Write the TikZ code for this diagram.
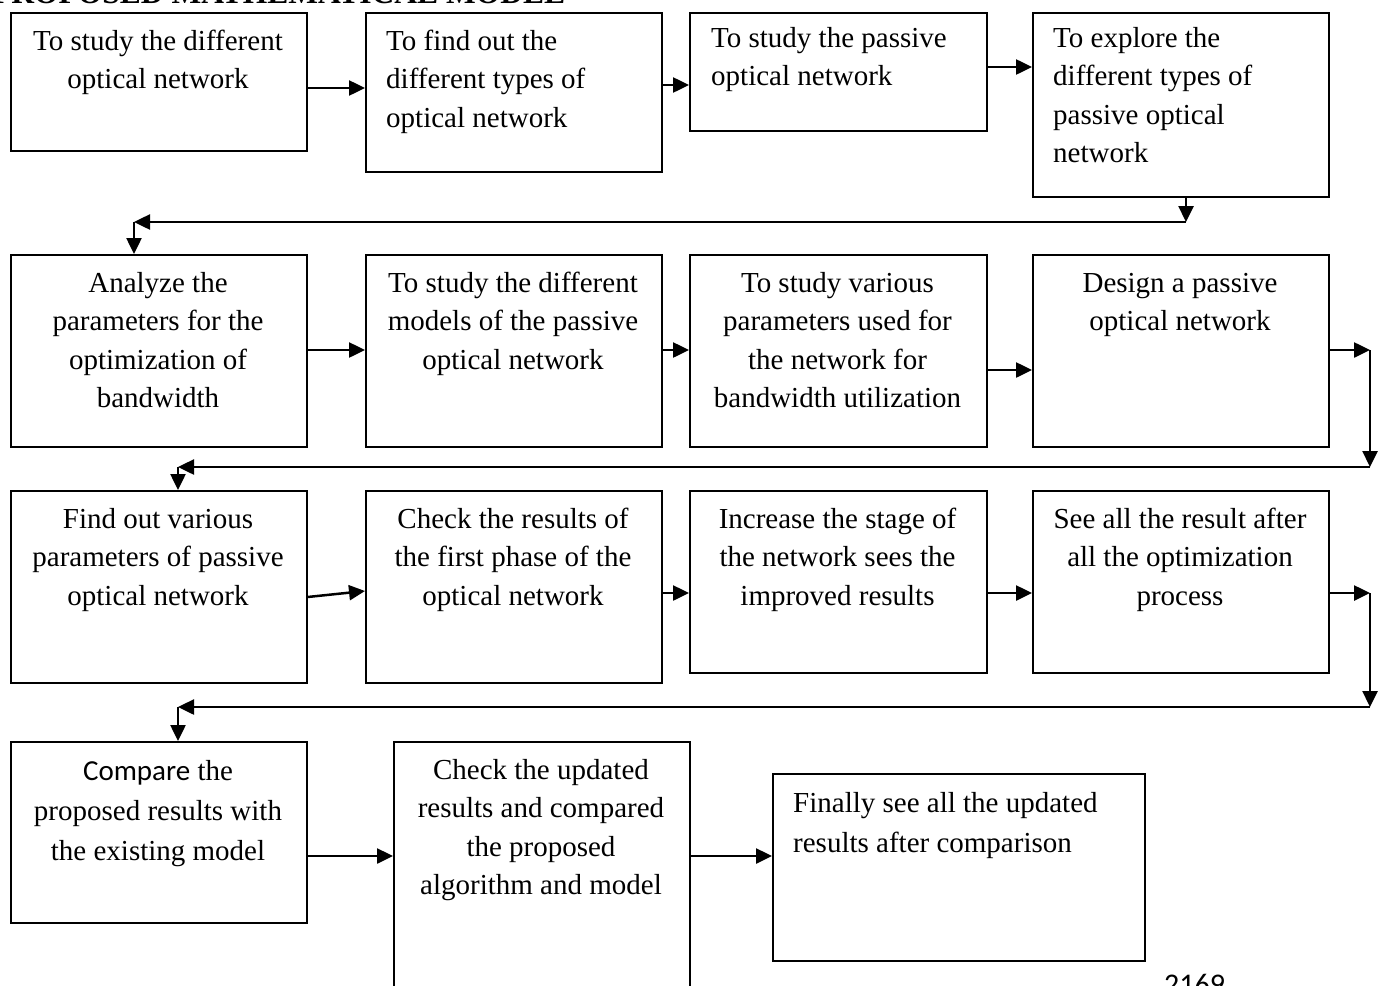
\documentclass[tikz,border=0pt]{standalone}
\usepackage{fontspec}
\setmainfont{Liberation Serif}
\newfontfamily\calfont{Carlito}
\usetikzlibrary{arrows.meta}
\begin{document}
\begin{tikzpicture}[x=1pt,y=-1pt,
  box/.style={draw, line width=1.6pt, anchor=north west, inner sep=0pt},
  txt/.style={inner sep=0pt, font=\fontsize{29}{38.5}\selectfont},
  ctxt/.style={txt, align=center, anchor=north},
  ltxt/.style={txt, align=left, anchor=north west},
  arr/.style={line width=2.5pt, -{Triangle[length=16pt,width=15pt]}}]
\useasboundingbox (0,0) rectangle (1380,985);
% title (cut off at top)
\node[inner sep=0pt, anchor=base west, font=\bfseries\fontsize{31.5}{36}\selectfont] (title) at (-8,4) {PROPOSED MATHEMATICAL MODEL};
% boxes
\node[box, minimum width=296, minimum height=138] (b1) at (10,12) {};
\node[box, minimum width=296, minimum height=159] (b2) at (365,12) {};
\node[box, minimum width=297, minimum height=118] (b3) at (689,12) {};
\node[box, minimum width=296, minimum height=184] (b4) at (1032,12) {};
\node[box, minimum width=296, minimum height=192] (b5) at (10,254) {};
\node[box, minimum width=296, minimum height=192] (b6) at (365,254) {};
\node[box, minimum width=297, minimum height=192] (b7) at (689,254) {};
\node[box, minimum width=296, minimum height=192] (b8) at (1032,254) {};
\node[box, minimum width=296, minimum height=192] (b9) at (10,490) {};
\node[box, minimum width=296, minimum height=192] (b10) at (365,490) {};
\node[box, minimum width=297, minimum height=182] (b11) at (689,490) {};
\node[box, minimum width=296, minimum height=182] (b12) at (1032,490) {};
\node[box, minimum width=296, minimum height=181] (b13) at (10,741) {};
\node[box, minimum width=296, minimum height=269] (b14) at (393,741) {};
\node[box, minimum width=372, minimum height=187] (b15) at (772,773) {};
% texts
\node[ctxt] (t1) at (158,23) {\strut To study the different\\optical network};
\node[ltxt] (t2) at (386,23) {\strut To find out the\\different types of\\optical network};
\node[ltxt] (t3) at (711,20) {\strut To study the passive\\optical network};
\node[ltxt] (t4) at (1053,20) {\strut To explore the\\different types of\\passive optical\\network};
\node[ctxt] (t5) at (158,265) {\strut Analyze the\\parameters for the\\optimization of\\bandwidth};
\node[ctxt] (t6) at (513,265) {\strut To study the different\\models of the passive\\optical network};
\node[ctxt] (t7) at (837.5,265) {\strut To study various\\parameters used for\\the network for\\bandwidth utilization};
\node[ctxt] (t8) at (1180,265) {\strut Design a passive\\optical network};
\node[ctxt] (t9) at (158,501) {\strut Find out various\\parameters of passive\\optical network};
\node[ctxt] (t10) at (513,501) {\strut Check the results of\\the first phase of the\\optical network};
\node[ctxt] (t11) at (837.5,501) {\strut Increase the stage of\\the network sees the\\improved results};
\node[ctxt] (t12) at (1180,501) {\strut See all the result after\\all the optimization\\process};
\node[ctxt, font=\fontsize{29}{40}\selectfont] (t13) at (158,752) {\strut{\calfont Compare} the\\proposed results with\\the existing model};
\node[ctxt] (t14) at (541,752) {\strut Check the updated\\results and compared\\the proposed\\algorithm and model};
\node[ltxt, font=\fontsize{29}{40}\selectfont] (t15) at (793,784) {\strut Finally see all the updated\\results after comparison};
% page number (cut off at bottom)
\node[inner sep=0pt, anchor=base west, font=\calfont\fontsize{30}{34}\selectfont] (pg) at (1164,994) {2169};
% row connectors
\draw[arr] (b1.east |- 0,88) -- (b2.west |- 0,88);
\draw[arr] (b2.east |- 0,85) -- (b3.west |- 0,85);
\draw[arr] (b3.east |- 0,67) -- (b4.west |- 0,67);
\draw[arr] (b5.east |- 0,350) -- (b6.west |- 0,350);
\draw[arr] (b6.east |- 0,350) -- (b7.west |- 0,350);
\draw[arr] (b7.east |- 0,370) -- (b8.west |- 0,370);
\draw[arr] (b9.east |- 0,597) -- (b10.west |- 0,591);
\draw[arr] (b10.east |- 0,593) -- (b11.west |- 0,593);
\draw[arr] (b11.east |- 0,593) -- (b12.west |- 0,593);
\draw[arr] (b13.east |- 0,856) -- (b14.west |- 0,856);
\draw[arr] (b14.east |- 0,856) -- (b15.west |- 0,856);
% row 1 -> row 2
\coordinate (c1) at (1186,222);
\coordinate (c2) at (134,222);
\draw[arr] (b4.south -| c1) -- (c1);
\draw[arr] (c1) -- (c2);
\draw[arr] (c2) -- (b5.north -| c2);
% row 2 -> row 3
\coordinate (c3) at (1370,350);
\coordinate (c4) at (1370,467);
\coordinate (c5) at (178,467);
\draw[arr] (b8.east |- c3) -- (c3);
\draw[arr] (c3) -- (c4);
\draw[arr] (c4) -- (c5);
\draw[arr] (c5) -- (b9.north -| c5);
% row 3 -> row 4
\coordinate (c6) at (1370,593);
\coordinate (c7) at (1370,707);
\coordinate (c8) at (178,707);
\draw[arr] (b12.east |- c6) -- (c6);
\draw[arr] (c6) -- (c7);
\draw[arr] (c7) -- (c8);
\draw[arr] (c8) -- (b13.north -| c8);
\end{tikzpicture}
\end{document}
